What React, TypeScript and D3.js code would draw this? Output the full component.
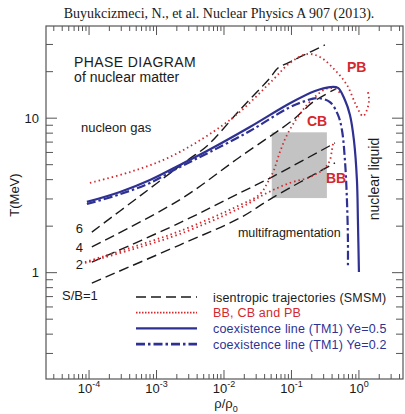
import * as d3 from 'd3'

// rho/rho0 and T(MeV)
const sb6Rho = [1.1e-4, 5.7e-4, 2.9e-3, 5.6e-3, 0.0172, 0.048, 0.063, 0.089, 0.134, 0.313]
const sb6T = [1.83, 3.14, 5.36, 6.61, 11.3, 18.2, 21.1, 22.8, 24.9, 29.8]
const sb4Rho = [1.1e-4, 2.2e-3, 0.0172, 0.105, 0.208, 0.456]
const sb4T = [1.47, 2.96, 5.61, 9.73, 12.7, 15.5]
const sb2Rho = [1.1e-4, 2.2e-3, 0.0172, 0.0514, 0.441]
const sb2T = [1.17, 2.1, 3.28, 4.16, 6.91]
const sb1Rho = [1.1e-4, 2.2e-3, 0.0172, 0.0514, 0.441]
const sb1T = [0.857, 1.51, 2.26, 3.04, 5.13]

const ye5Rho = [9.3e-5, 2.87e-4, 8.0e-4, 2.22e-3, 5.58e-3, 0.0242, 0.0949, 0.223, 0.372, 0.489, 0.62, 0.736, 0.843, 0.934, 0.966, 1.0]
const ye5T = [2.87, 3.33, 3.98, 4.98, 6.13, 8.77, 12.5, 15.0, 15.9, 15.7, 13.1, 10.5, 7.22, 3.98, 2.19, 1.01]
const ye2Rho = [9.3e-5, 2.87e-4, 8.0e-4, 2.22e-3, 6.19e-3, 0.0242, 0.0887, 0.1585, 0.238, 0.372, 0.489, 0.56, 0.62, 0.664, 0.687, 0.687]
const ye2T = [2.78, 3.22, 3.81, 4.83, 6.04, 8.26, 11.6, 12.9, 13.5, 12.7, 10.5, 8.39, 5.36, 2.96, 1.63, 1.07]

const pbRho = [1.03e-4, 4.03e-4, 1.58e-3, 6.86e-3, 0.0172, 0.0531, 0.0949, 0.17, 0.264, 0.441, 0.664, 0.903, 1.146, 1.314, 1.41, 1.36]
const pbT = [3.81, 4.48, 5.61, 8.14, 11.0, 17.7, 22.8, 26.0, 24.9, 20.5, 16.4, 12.2, 10.3, 11.3, 13.1, 14.8]
const cbRho = [8.7e-5, 4.03e-4, 2.22e-3, 0.0172, 0.0341, 0.0448, 0.055, 0.0675, 0.0857, 0.1205, 0.17, 0.238, 0.324, 0.441, 0.541]
const cbT = [1.17, 1.445, 1.86, 2.74, 3.22, 3.87, 4.62, 6.04, 7.78, 10.0, 12.2, 14.1, 15.5, 15.5, 14.35]
const bbRho = [8.7e-5, 4.03e-4, 2.22e-3, 0.0172, 0.0433, 0.0949, 0.188, 0.313, 0.372, 0.398, 0.412]
const bbT = [1.156, 1.4, 1.78, 2.62, 3.28, 3.81, 4.16, 4.76, 5.36, 6.22, 6.81]

const boxRho = [0.051, 0.335]
const boxT = [3.04, 8.1]

const xMajor = [1e-4, 1e-3, 1e-2, 1e-1, 1]
const xExp = ['-4', '-3', '-2', '-1', '0']
const yMajor = [1, 10]

const legendLabels = [
  'isentropic trajectories (SMSM)',
  'BB, CB and PB',
  'coexistence line (TM1) Ye=0.5',
  'coexistence line (TM1) Ye=0.2',
]

const BLUE = '#2e3192'
const RED = '#d4282e'
const INK = '#1a1a1a'
const SANS = 'Liberation Sans, Arial, sans-serif'

const zip = (a: number[], b: number[]) => a.map((v, i) => [v, b[i]] as [number, number])

export default function App() {
  const x = d3.scaleLog().domain([2.3e-5, 4.5]).range([46, 403])
  const y = d3.scaleLog().domain([0.205, 39.5]).range([379, 26])
  const [x0, x1] = x.range()
  const [y0, y1] = y.range()

  const line = d3.line<[number, number]>()
    .x(d => x(d[0]))
    .y(d => y(d[1]))
    .curve(d3.curveCatmullRom.alpha(0.5))

  // minor ticks on both axes
  const xTicks: number[] = []
  for (let e = -5; e <= 0; e++) {
    for (let m = 1; m <= 9; m++) {
      const v = m * Math.pow(10, e)
      if (v >= x.domain()[0] && v <= x.domain()[1]) xTicks.push(v)
    }
  }
  const yTicks: number[] = []
  for (let e = -1; e <= 1; e++) {
    for (let m = 1; m <= 9; m++) {
      const v = m * Math.pow(10, e)
      if (v >= y.domain()[0] && v <= y.domain()[1]) yTicks.push(v)
    }
  }
  const isMajor = (v: number) => Math.abs(Math.log10(v) - Math.round(Math.log10(v))) < 1e-6

  const dashed = { stroke: INK, strokeWidth: 1.4, strokeDasharray: '10,5', fill: 'none' }
  const dotted = { stroke: RED, strokeWidth: 1.8, strokeDasharray: '1.5,3', fill: 'none' }

  const legendStyles = [
    { stroke: INK, strokeWidth: 1.4, strokeDasharray: '10,5' },
    { stroke: RED, strokeWidth: 1.8, strokeDasharray: '1.5,1.5' },
    { stroke: BLUE, strokeWidth: 2.4 },
    { stroke: BLUE, strokeWidth: 2.6, strokeDasharray: '9,3,2.5,3' },
  ]
  const legendColors = [INK, RED, BLUE, BLUE]

  return (
    <svg width={405} height={414} style={{ position: 'absolute', left: 0, top: 0 }} fontFamily={SANS}>
      <rect width={405} height={414} fill="#fff" />
      <text x={219} y={18} textAnchor="middle" fontFamily="Liberation Serif, Times New Roman, serif" fontSize={14} fill={INK}>
        Buyukcizmeci, N., et al. Nuclear Physics A 907 (2013).
      </text>

      {/* multifragmentation region */}
      <rect x={x(boxRho[0])} y={y(boxT[1])} width={x(boxRho[1]) - x(boxRho[0])} height={y(boxT[0]) - y(boxT[1])} fill="#c3c3c3" />

      {/* isentropes */}
      <path d={line(zip(sb6Rho, sb6T)) || ''} {...dashed} />
      <path d={line(zip(sb4Rho, sb4T)) || ''} {...dashed} />
      <path d={line(zip(sb2Rho, sb2T)) || ''} {...dashed} />
      <path d={line(zip(sb1Rho, sb1T)) || ''} {...dashed} />

      {/* boundaries */}
      <path d={line(zip(pbRho, pbT)) || ''} {...dotted} />
      <path d={line(zip(cbRho, cbT)) || ''} {...dotted} />
      <path d={line(zip(bbRho, bbT)) || ''} {...dotted} />

      {/* coexistence lines */}
      <path d={line(zip(ye5Rho, ye5T)) || ''} fill="none" stroke={BLUE} strokeWidth={2.2} />
      <path d={line(zip(ye2Rho, ye2T)) || ''} fill="none" stroke={BLUE} strokeWidth={2.2} strokeDasharray="9,3,2.5,3" />

      {/* frame + ticks */}
      <rect x={x0} y={y1} width={x1 - x0} height={y0 - y1} fill="none" stroke="#555" strokeWidth={1.2} />
      {xTicks.map((v, i) => {
        const len = isMajor(v) ? 9 : 5
        return (
          <g key={'xt' + i} stroke="#555" strokeWidth={1}>
            <line x1={x(v)} x2={x(v)} y1={y0} y2={y0 - len} />
            <line x1={x(v)} x2={x(v)} y1={y1} y2={y1 + len} />
          </g>
        )
      })}
      {yTicks.map((v, i) => {
        const len = isMajor(v) ? 11 : 7
        return (
          <g key={'yt' + i} stroke="#555" strokeWidth={1}>
            <line x1={x0} x2={x0 + len} y1={y(v)} y2={y(v)} />
            <line x1={x1} x2={x1 - len} y1={y(v)} y2={y(v)} />
          </g>
        )
      })}
      {xMajor.map((v, i) => (
        <text key={'xl' + i} x={x(v)} y={393} textAnchor="middle" fill={INK}>
          <tspan fontSize={13}>10</tspan>
          <tspan fontSize={9} dy={-6}>{xExp[i]}</tspan>
        </text>
      ))}
      {yMajor.map((v, i) => (
        <text key={'yl' + i} x={39} y={y(v) + 4.5} textAnchor="end" fontSize={13} fill={INK}>{v}</text>
      ))}
      <text x={226} y={408} textAnchor="middle" fill={INK} fontSize={13}>
        <tspan>ρ/ρ</tspan>
        <tspan fontSize={9} dy={4}>0</tspan>
      </text>
      <text transform={`translate(19,${y(3.18)}) rotate(-90)`} textAnchor="middle" fontSize={13} fill={INK}>T(MeV)</text>

      {/* annotations */}
      <text x={x(6e-5)} y={y(21.4)} fontSize={14} fill={INK} letterSpacing={0.4}>PHASE DIAGRAM</text>
      <text x={x(6e-5)} y={y(17.2)} fontSize={14} fill={INK}>of nuclear matter</text>
      <text x={x(7.6e-5)} y={y(8.14)} fontSize={13} fill={INK}>nucleon gas</text>
      <text x={x(0.0161)} y={y(1.7)} fontSize={12.5} fill={INK}>multifragmentation</text>
      <text transform={`translate(${x(1.85) + 2},${y(4.04)}) rotate(-90)`} textAnchor="middle" fontSize={14} fill={INK}>nuclear liquid</text>
      <text x={x(0.664)} y={y(19.9)} fontSize={14} fontWeight="bold" fill={RED}>PB</text>
      <text x={x(0.17)} y={y(8.9)} fontSize={14} fontWeight="bold" fill={RED}>CB</text>
      <text x={x(0.324)} y={y(3.81)} fontSize={14} fontWeight="bold" fill={RED}>BB</text>
      <text x={x(8.1e-5)} y={y(1.81)} textAnchor="end" fontSize={13} fill={INK}>6</text>
      <text x={x(8.1e-5)} y={y(1.36)} textAnchor="end" fontSize={13} fill={INK}>4</text>
      <text x={x(8.1e-5)} y={y(1.05)} textAnchor="end" fontSize={13} fill={INK}>2</text>
      <text x={x(3.98e-5)} y={y(0.666)} fontSize={13} fill={INK}>S/B=1</text>

      {/* legend */}
      {legendLabels.map((lab, i) => {
        const ly = 297 + i * 15.7
        return (
          <g key={'lg' + i}>
            <line x1={136} x2={197} y1={ly} y2={ly} {...legendStyles[i]} />
            <text x={213} y={ly + 4.5} fontSize={12.5} fill={legendColors[i]} letterSpacing={0.2}>{lab}</text>
          </g>
        )
      })}
    </svg>
  )
}
